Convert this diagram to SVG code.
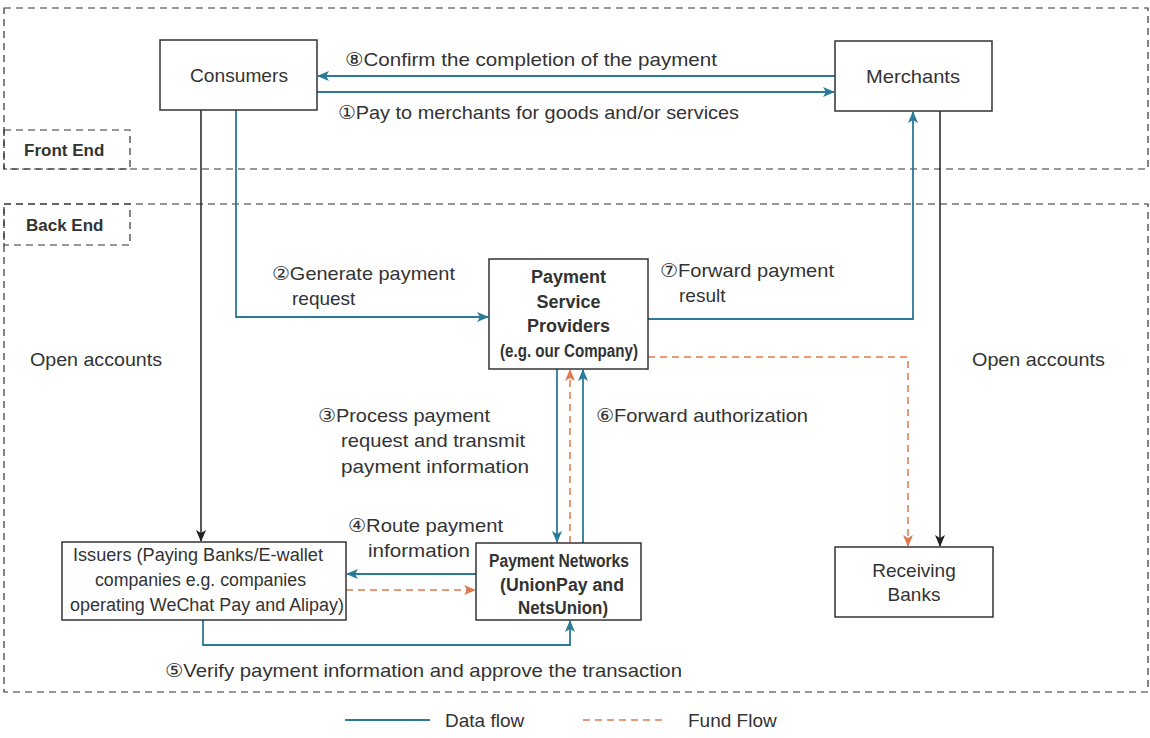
<svg xmlns="http://www.w3.org/2000/svg" width="1150" height="738" viewBox="0 0 1150 738">
<defs>
<marker id="ab" viewBox="0 0 12 10" refX="11" refY="5" markerWidth="12" markerHeight="10" markerUnits="userSpaceOnUse" orient="auto"><path d="M0,0 L12,5 L0,10 L3,5 Z" fill="#2a7b98"/></marker>
<marker id="ao" viewBox="0 0 12 10" refX="11" refY="5" markerWidth="12" markerHeight="10" markerUnits="userSpaceOnUse" orient="auto"><path d="M0,0 L12,5 L0,10 L3,5 Z" fill="#e07a4c"/></marker>
<marker id="ak" viewBox="0 0 12 10" refX="11" refY="5" markerWidth="12" markerHeight="10" markerUnits="userSpaceOnUse" orient="auto"><path d="M0,0 L12,5 L0,10 L3,5 Z" fill="#222"/></marker>
</defs>
<style>
text{font-family:"Liberation Sans","DejaVu Sans",sans-serif;font-size:19px;fill:#333}
.b{font-weight:bold;font-size:18px}
.m{text-anchor:middle}
.box{fill:#fff;stroke:#333;stroke-width:1.5}
.reg{fill:none;stroke:#333;stroke-width:1.2;stroke-dasharray:7,5}
.d{fill:none;stroke:#2a7b98;stroke-width:1.8}
.f{fill:none;stroke:#e07a4c;stroke-width:1.5;stroke-dasharray:7,5}
.k{fill:none;stroke:#222;stroke-width:1.5}
</style>
<rect width="1150" height="738" fill="#fff"/>
<g id="regions">
<rect class="reg" x="4" y="8" width="1144" height="161"/>
<rect class="reg" x="4" y="130" width="126" height="39"/>
<text class="b" x="24" y="156" style="font-size:17px">Front End</text>
<rect class="reg" x="4" y="204" width="1144" height="488"/>
<rect class="reg" x="4" y="204" width="126" height="41"/>
<text class="b" x="26" y="231" style="font-size:17px">Back End</text>
</g>
<g id="connectors">
<line class="d" x1="835" y1="76" x2="318" y2="76" marker-end="url(#ab)"/>
<line class="d" x1="317" y1="92" x2="834" y2="92" marker-end="url(#ab)"/>
<line class="k" x1="201" y1="110" x2="201" y2="541" marker-end="url(#ak)"/>
<polyline class="d" points="236,110 236,317 488,317" marker-end="url(#ab)"/>
<polyline class="d" points="648,319 913,319 913,112" marker-end="url(#ab)"/>
<line class="k" x1="940" y1="111" x2="940" y2="546" marker-end="url(#ak)"/>
<polyline class="f" points="648,357 908,357 908,546" marker-end="url(#ao)"/>
<line class="d" x1="557" y1="369" x2="557" y2="542" marker-end="url(#ab)"/>
<line class="f" x1="570" y1="543" x2="570" y2="370" marker-end="url(#ao)"/>
<line class="d" x1="583" y1="543" x2="583" y2="370" marker-end="url(#ab)"/>
<line class="d" x1="476" y1="574" x2="347" y2="574" marker-end="url(#ab)"/>
<line class="f" x1="346" y1="590" x2="475" y2="590" marker-end="url(#ao)"/>
<polyline class="d" points="203,620 203,645 570,645 570,621" marker-end="url(#ab)"/>
</g>
<g id="labels">
<text x="345" y="66" textLength="372" lengthAdjust="spacingAndGlyphs">⑧Confirm the completion of the payment</text>
<text x="338" y="119" textLength="401" lengthAdjust="spacingAndGlyphs">①Pay to merchants for goods and/or services</text>
<text x="272" y="280" textLength="183" lengthAdjust="spacingAndGlyphs">②Generate payment</text>
<text x="292" y="305">request</text>
<text x="660" y="277" textLength="174" lengthAdjust="spacingAndGlyphs">⑦Forward payment</text>
<text x="679" y="302">result</text>
<text x="30" y="366" textLength="132" lengthAdjust="spacingAndGlyphs">Open accounts</text>
<text x="972" y="366" textLength="133" lengthAdjust="spacingAndGlyphs">Open accounts</text>
<text x="318" y="422" textLength="172" lengthAdjust="spacingAndGlyphs">③Process payment</text>
<text x="341" y="447" textLength="184" lengthAdjust="spacingAndGlyphs">request and transmit</text>
<text x="341" y="473" textLength="188" lengthAdjust="spacingAndGlyphs">payment information</text>
<text x="596" y="422" textLength="212" lengthAdjust="spacingAndGlyphs">⑥Forward authorization</text>
<text x="348" y="532" textLength="155" lengthAdjust="spacingAndGlyphs">④Route payment</text>
<text x="368" y="557" textLength="102" lengthAdjust="spacingAndGlyphs">information</text>
<text x="165" y="677" textLength="517" lengthAdjust="spacingAndGlyphs">⑤Verify payment information and approve the transaction</text>
</g>
<g id="consumers">
<rect class="box" x="160" y="40" width="157" height="70"/>
<text x="190" y="82" textLength="98" lengthAdjust="spacingAndGlyphs">Consumers</text>
</g>
<g id="merchants">
<rect class="box" x="835" y="41" width="157" height="70"/>
<text x="866" y="83" textLength="94" lengthAdjust="spacingAndGlyphs">Merchants</text>
</g>
<g id="psp">
<rect class="box" x="489" y="259" width="159" height="110"/>
<text class="m b" x="568.5" y="283">Payment</text>
<text class="m b" x="568.5" y="308">Service</text>
<text class="m b" x="568.5" y="332">Providers</text>
<text class="b" x="500" y="357" textLength="138" lengthAdjust="spacingAndGlyphs">(e.g. our Company)</text>
</g>
<g id="networks">
<rect class="box" x="476" y="543" width="165" height="77"/>
<text class="b" x="489" y="567" textLength="140" lengthAdjust="spacingAndGlyphs">Payment Networks</text>
<text class="b" x="500" y="591" textLength="124" lengthAdjust="spacingAndGlyphs">(UnionPay and</text>
<text class="b" x="518" y="614" textLength="90" lengthAdjust="spacingAndGlyphs">NetsUnion)</text>
</g>
<g id="issuers">
<rect class="box" x="62" y="542" width="284" height="78"/>
<text x="73" y="561" textLength="250" lengthAdjust="spacingAndGlyphs" style="font-size:18px">Issuers (Paying Banks/E-wallet</text>
<text x="95" y="586" textLength="211" lengthAdjust="spacingAndGlyphs" style="font-size:18px">companies e.g. companies</text>
<text x="70" y="611" textLength="274" lengthAdjust="spacingAndGlyphs" style="font-size:18px">operating WeChat Pay and Alipay)</text>
</g>
<g id="receiving">
<rect class="box" x="835" y="547" width="158" height="70"/>
<text class="m" x="914" y="577">Receiving</text>
<text class="m" x="914" y="601">Banks</text>
</g>
<g id="legend">
<line class="d" x1="345" y1="720" x2="430" y2="720"/>
<text x="445" y="727">Data flow</text>
<line class="f" x1="583" y1="720" x2="666" y2="720"/>
<text x="688" y="727">Fund Flow</text>
</g>
</svg>
